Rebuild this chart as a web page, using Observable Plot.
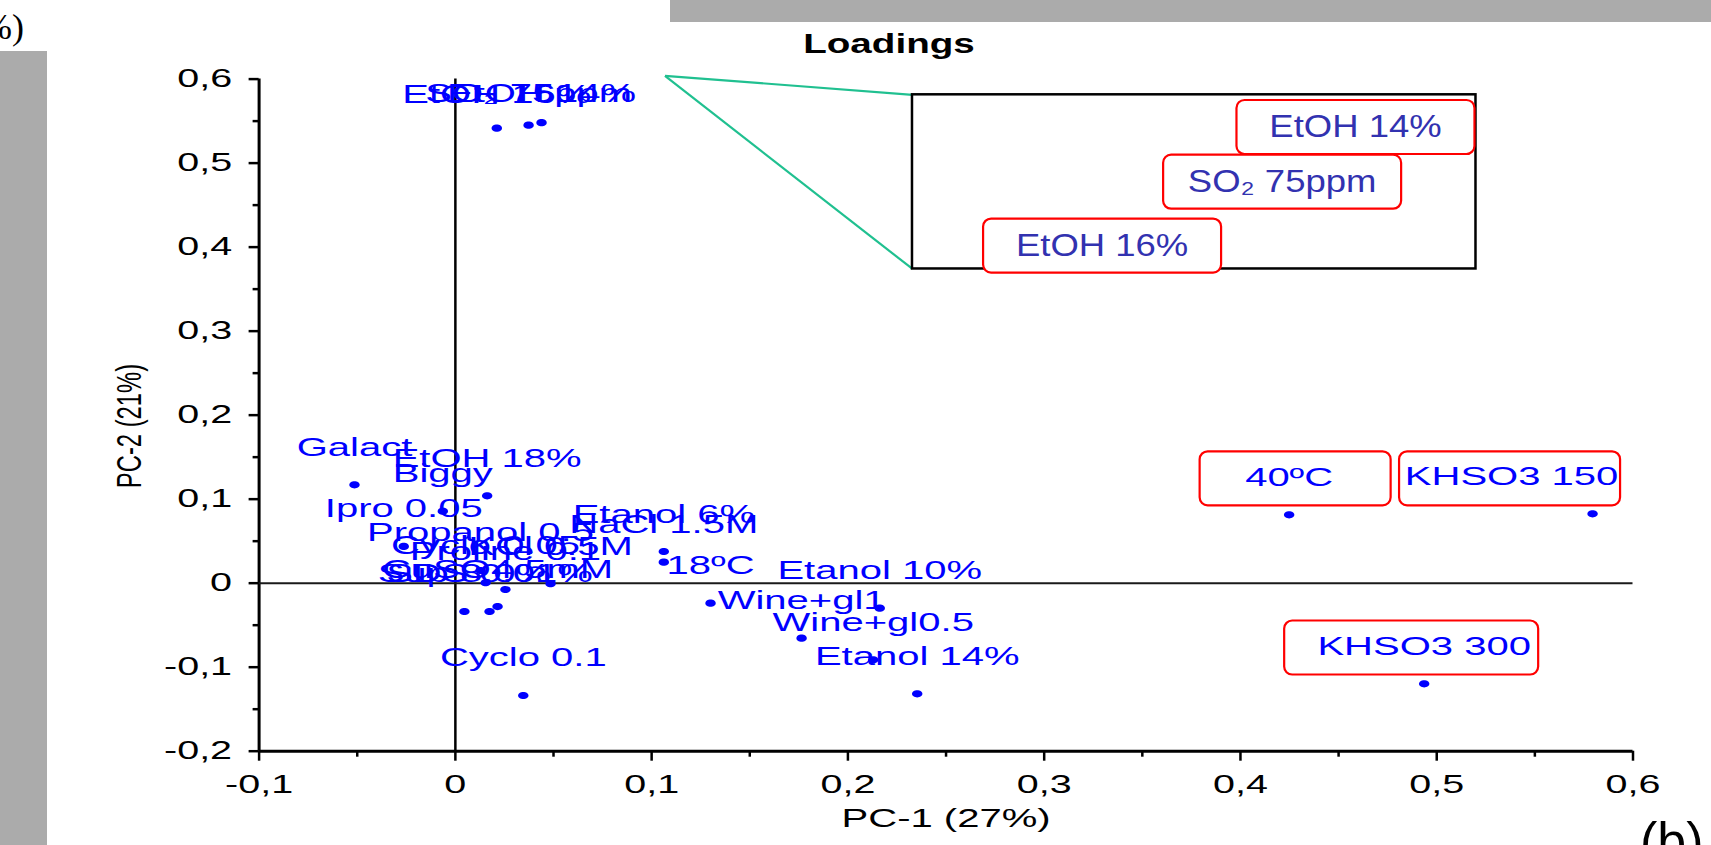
<!DOCTYPE html>
<html><head><meta charset="utf-8">
<script src="https://cdn.jsdelivr.net/npm/d3@7"></script>
<script src="https://cdn.jsdelivr.net/npm/@observablehq/plot@0.6"></script>
<style>
html,body{margin:0;padding:0;background:#fff;}
#wrap{position:relative;width:1711px;height:845px;overflow:hidden;font-family:'Liberation Sans',Arial,sans-serif;}
#chart{position:absolute;left:0;top:0;}
.gray{position:absolute;background:#ababab;}
.ov{position:absolute;white-space:nowrap;color:#000;}
</style></head>
<body><div id="wrap">
<div id="chart"></div>
<div class="gray" style="left:0;top:51px;width:47px;height:794px;"></div>
<div class="gray" style="left:670px;top:0;width:1041px;height:22px;"></div>
<div class="ov" style="left:-18px;top:9px;font-family:'Liberation Serif',serif;font-size:36px;line-height:36px;">%)</div>
<div class="ov" style="left:889px;top:31px;font-weight:bold;font-size:27px;line-height:27px;transform:translateX(-50%) scaleX(1.43);">Loadings</div>
<div class="ov" style="left:1640px;top:815px;font-size:52px;line-height:52px;">(b)</div>
</div>
<script>
// ---- data ----
const labels = ["EtOH 16%", "SO₂ 75ppm", "EtOH 14%", "Galact", "EtOH 18%", "Biggy", "Ipro 0.05",
  "Propanol 0.5", "Cyclo 0.05", "KCl 0.5M", "Proline 0.1", "CuSO4 5mM", "SDS 0.01%", "Sup 8.0%",
  "Etanol 6%", "NaCl 1.5M", "18ºC", "Wine+gl1", "Wine+gl0.5", "Etanol 10%", "Etanol 14%",
  "Cyclo 0.1", "40ºC", "KHSO3 150", "KHSO3 300"];
const pc1 = [0.0211, 0.0373, 0.0439, -0.0514, 0.0162, -0.0064, -0.0263,
  0.0128, 0.0154, 0.0485, 0.0255, 0.0215, 0.0174, 0.0046,
  0.1062, 0.1062, 0.1300, 0.1764, 0.2129, 0.2162, 0.2353,
  0.0346, 0.4248, 0.5794, 0.4936];
const pc2 = [0.5416, 0.5451, 0.5481, 0.1171, 0.1040, 0.0857, 0.0437,
  0.0151, 0.0005, -0.0007, -0.0075, -0.0278, -0.0337, -0.0337,
  0.0377, 0.0250, -0.0238, -0.0655, -0.0912, -0.0298, -0.1317,
  -0.1337, 0.0814, 0.0826, -0.1198];

const xMajor = [-0.1, 0, 0.1, 0.2, 0.3, 0.4, 0.5, 0.6];
const xTickLabels = ["-0,1", "0", "0,1", "0,2", "0,3", "0,4", "0,5", "0,6"];
const xMinor = [-0.05, 0.05, 0.15, 0.25, 0.35, 0.45, 0.55];
const yMajor = [-0.2, -0.1, 0, 0.1, 0.2, 0.3, 0.4, 0.5, 0.6];
const yTickLabels = ["-0,2", "-0,1", "0", "0,1", "0,2", "0,3", "0,4", "0,5", "0,6"];
const yMinor = [-0.15, -0.05, 0.05, 0.15, 0.25, 0.35, 0.45, 0.55];

const xTitle = "PC-1 (27%)";
const yTitle = "PC-2 (21%)";

// labels that are framed in red in the main plot
const boxedLabels = ["40ºC", "KHSO3 150", "KHSO3 300"];
// zoomed inset of the top group
const insetLabels = ["EtOH 14%", "SO₂ 75ppm", "EtOH 16%"];

// ---- layout / style (not data) ----
const defaultLabelOffset = {dx: 0, dy: -37};
const labelOffset = {"KHSO3 150": {dx: -81, dy: -37},
                     "EtOH 16%": {dx: 0, dy: -33},
                     "SO₂ 75ppm": {dx: 0, dy: -31},
                     "EtOH 14%": {dx: 0, dy: -29}};
const boxStyle = {"40ºC": {w: 191, h: 54, dx: 6, dy: -36.5},
                  "KHSO3 150": {w: 221, h: 54, dx: -83, dy: -35.5},
                  "KHSO3 300": {w: 254, h: 54, dx: -13, dy: -36.3}};
const insetFrame = {x1: 0.2329, x2: 0.5200, y1: 0.3740, y2: 0.5813};
const calloutFrom = {x: 0.1068, y: 0.6039};
const insetRangeX = [0.3295, 0.4586];
const insetRangeY = [0.4019, 0.5430];

const points = labels.map((label, i) => ({label, pc1: pc1[i], pc2: pc2[i]}));
const xLab = new Map(xMajor.map((v, i) => [v, xTickLabels[i]]));
const yLab = new Map(yMajor.map((v, i) => [v, yTickLabels[i]]));

function ellipseSymbol(rx, ry) {
  const k = 0.5523;
  return {draw(c) {
    c.moveTo(rx, 0);
    c.bezierCurveTo(rx, ry * k, rx * k, ry, 0, ry);
    c.bezierCurveTo(-rx * k, ry, -rx, ry * k, -rx, 0);
    c.bezierCurveTo(-rx, -ry * k, -rx * k, -ry, 0, -ry);
    c.bezierCurveTo(rx * k, -ry, rx, -ry * k, rx, 0);
    c.closePath();
  }};
}
function roundedBox(w, h, r) {
  return {draw(c) {
    const x0 = -w / 2, y0 = -h / 2, x1 = w / 2, y1 = h / 2;
    c.moveTo(x0 + r, y0); c.lineTo(x1 - r, y0); c.arcTo(x1, y0, x1, y0 + r, r);
    c.lineTo(x1, y1 - r); c.arcTo(x1, y1, x1 - r, y1, r);
    c.lineTo(x0 + r, y1); c.arcTo(x0, y1, x0, y1 - r, r);
    c.lineTo(x0, y0 + r); c.arcTo(x0, y0, x0 + r, y0, r);
    c.closePath();
  }};
}

const insetPts = points.filter(d => insetLabels.includes(d.label));
const ix = d3.scaleLinear(d3.extent(insetPts, d => d.pc1), insetRangeX);
const iy = d3.scaleLinear(d3.extent(insetPts, d => d.pc2), insetRangeY);
const insetData = insetPts.map(d => ({label: d.label, ix: ix(d.pc1), iy: iy(d.pc2)}));
const callouts = [
  {x1: calloutFrom.x, y1: calloutFrom.y, x2: insetFrame.x1, y2: insetFrame.y2},
  {x1: calloutFrom.x, y1: calloutFrom.y, x2: insetFrame.x1, y2: insetFrame.y1}
];

const blue = "#0000ff";
const marks = [
  Plot.ruleX([-0.1], {strokeWidth: 3}),
  Plot.ruleY([-0.2], {strokeWidth: 3}),
  Plot.ruleX([0], {strokeWidth: 2.5}),
  Plot.ruleY([0], {strokeWidth: 2, stroke: "#1a1a1a"}),
  Plot.axisX({ticks: xMinor, anchor: "bottom", tickSize: 6, tickFormat: () => "", strokeWidth: 2.5, label: null}),
  Plot.axisX({ticks: xMajor, anchor: "bottom", tickSize: 10, tickPadding: 14, tickFormat: d => xLab.get(d), fontSize: 25, strokeWidth: 2.5, label: null}),
  Plot.axisY({ticks: yMinor, anchor: "left", tickSize: 6, tickFormat: () => "", strokeWidth: 2.5, label: null}),
  Plot.axisY({ticks: yMajor, anchor: "left", tickSize: 10, tickPadding: 17, tickFormat: d => yLab.get(d), fontSize: 25, strokeWidth: 2.5, label: null}),
  Plot.dot(points, {x: "pc1", y: "pc2", symbol: ellipseSymbol(5.2, 3.6), fill: blue, stroke: "none"}),
  Plot.text(points.filter(d => !(d.label in labelOffset)), {x: "pc1", y: "pc2", text: "label", ...defaultLabelOffset, fontSize: 25, fill: blue}),
  ...Object.entries(labelOffset).map(([name, o]) =>
    Plot.text(points.filter(d => d.label === name), {x: "pc1", y: "pc2", text: "label", dx: o.dx, dy: o.dy, fontSize: 25, fill: blue})),
  ...boxedLabels.map(name => {
    const b = boxStyle[name];
    return Plot.dot(points.filter(d => d.label === name), {x: "pc1", y: "pc2", symbol: roundedBox(b.w, b.h, 8),
      dx: b.dx, dy: b.dy, fill: "none", stroke: "#ff0000", strokeWidth: 2.2});
  }),
  Plot.link(callouts, {x1: "x1", y1: "y1", x2: "x2", y2: "y2", stroke: "#20c090", strokeWidth: 2.2}),
  Plot.rect([insetFrame], {x1: "x1", x2: "x2", y1: "y1", y2: "y2", fill: "white", stroke: "black", strokeWidth: 2.5}),
  Plot.dot(insetData, {x: "ix", y: "iy", symbol: roundedBox(238, 54, 8), fill: "white", stroke: "#ff0000", strokeWidth: 2.2}),
  Plot.text(insetData, {x: "ix", y: "iy", text: "label", fontSize: 32, fill: "#3232b0"}),
  Plot.text([xTitle], {frameAnchor: "bottom", dy: 75.5, fontSize: 25, fill: "black"}),
  Plot.text([yTitle], {frameAnchor: "left", rotate: -90, textAnchor: "start", dx: -129, dy: 73, fontSize: 35, fill: "black"})
];

const chart = Plot.plot({
  width: 1711, height: 845,
  marginLeft: 258.6, marginRight: 78.5, marginTop: 78.6, marginBottom: 94.3,
  x: {domain: [-0.1, 0.6]},
  y: {domain: [-0.2, 0.6]},
  style: {fontFamily: "'Liberation Sans', Arial, sans-serif", color: "black", background: "transparent", overflow: "visible"},
  marks
});
document.getElementById("chart").append(chart);

// the original figure is horizontally stretched: widen glyphs accordingly
function stretch(nodes, f) {
  nodes.forEach(t => {
    const L = t.getComputedTextLength();
    if (L > 0) { t.setAttribute("textLength", (L * f).toFixed(1)); t.setAttribute("lengthAdjust", "spacingAndGlyphs"); }
  });
}
stretch(chart.querySelectorAll('g[aria-label="x-axis tick label"] text, g[aria-label="y-axis tick label"] text'), 1.58);
const textFactor = {25: 1.6, 32: 1.14, 35: 0.68};
chart.querySelectorAll('g[aria-label="text"]').forEach(g => {
  const fs = parseFloat(g.getAttribute("font-size"));
  if (textFactor[fs]) stretch(g.querySelectorAll("text"), textFactor[fs]);
});
</script></body></html>
